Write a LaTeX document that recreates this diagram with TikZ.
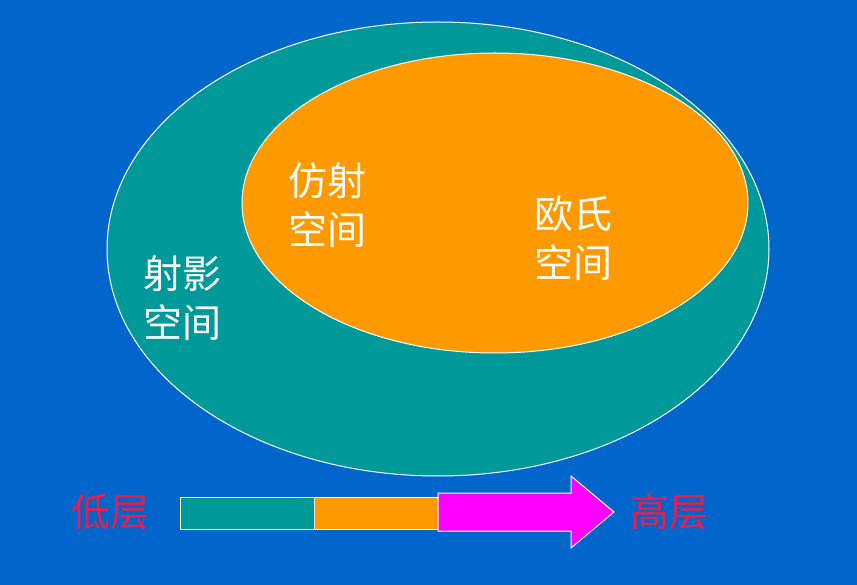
\documentclass[tikz,border=0pt]{standalone}
\usepackage{fontspec}
\newfontfamily\cjk{Noto Sans CJK SC}
\usetikzlibrary{positioning}
\definecolor{bgblue}{RGB}{0,102,204}
\definecolor{teal}{RGB}{0,153,153}
\definecolor{orng}{RGB}{255,153,0}
\definecolor{magen}{RGB}{255,0,255}
\definecolor{lowred}{RGB}{232,30,80}

\begin{document}
\begin{tikzpicture}[x=1pt, y=-1pt,
    space/.style={draw=white, line width=1pt},
    spacelbl/.style={text=white, align=center, inner sep=0pt, font=\cjk\fontsize{39}{49}\selectfont},
    levellbl/.style={text=lowred, inner sep=0pt, font=\cjk\fontsize{39}{49}\selectfont},
    barpart/.style={draw=white, line width=1pt}
]
\fill[bgblue] (0,0) rectangle (857,585);
\useasboundingbox (0,0) rectangle (857,585);

% nested spaces
\filldraw[space, fill=teal] (438,249) ellipse [x radius=331pt, y radius=227pt];
\filldraw[space, fill=orng] (495,203) ellipse [x radius=253pt, y radius=150pt];

\node[spacelbl] (proj) at (182,298) {射影\\空间};
\node[spacelbl] (affine) at (327,205) {仿射\\空间};
\node[spacelbl] (eucl) at (573,238) {欧氏\\空间};

% level bar
\filldraw[barpart, fill=teal] (180,497) rectangle (314,529);
\filldraw[barpart, fill=orng] (314,497) rectangle (438,529);
\filldraw[barpart, fill=magen] (438,493) -- (571,493) -- (571,476) -- (614,512)
    -- (571,548) -- (571,531) -- (438,531) -- cycle;

\node[levellbl] (low) at (110,512) {低层};
\node[levellbl] (high) at (669,512) {高层};
\end{tikzpicture}
\end{document}
